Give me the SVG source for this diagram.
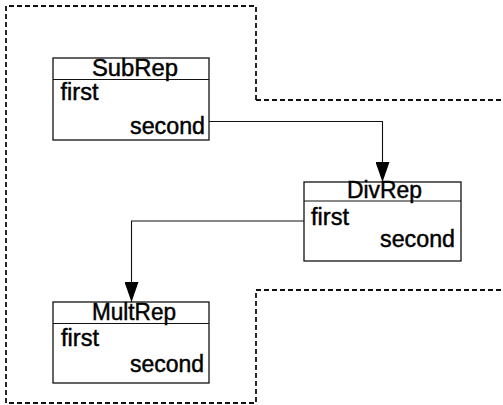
<svg xmlns="http://www.w3.org/2000/svg" width="503" height="405" viewBox="0 0 503 405">
<style>
.box{fill:#fff;stroke:#111;stroke-width:1.3}
.div{stroke:#111;stroke-width:1.2}
.t{font-family:"Liberation Sans",Arial,sans-serif;font-size:23px;fill:#000;stroke:#000;stroke-width:0.45}
.conn{fill:none;stroke:#111;stroke-width:1.1}
.outline{fill:none;stroke:#111;stroke-width:1.8;stroke-dasharray:5,3}
</style>
<defs>
<marker id="arr" markerWidth="20" markerHeight="14" refX="20" refY="7" orient="auto" markerUnits="userSpaceOnUse" viewBox="0 0 20 14">
<path d="M0,0 L20,7 L0,14 Z" fill="#000"/>
</marker>
</defs>
<path class="outline" d="M256,100 L256,6 L6,6 L6,403 L256,403 L256,290 L503,290 M256,100 L503,100"/>
<g id="connectors">
<path class="conn" d="M209,121.5 L382.5,121.5 L382.5,182" marker-end="url(#arr)"/>
<path class="conn" d="M304,221 L131.5,221 L131.5,302" marker-end="url(#arr)"/>
</g>
<g id="SubRep">
<rect class="box" x="53" y="58" width="156" height="82"/>
<line class="div" x1="53" y1="79.5" x2="209" y2="79.5"/>
<text class="t" x="92" y="76" textLength="86" lengthAdjust="spacingAndGlyphs">SubRep</text>
<text class="t" x="60.5" y="99.5" textLength="38" lengthAdjust="spacingAndGlyphs">first</text>
<text class="t" x="130" y="134" textLength="75" lengthAdjust="spacingAndGlyphs">second</text>
</g>
<g id="DivRep">
<rect class="box" x="304" y="182" width="157" height="79"/>
<line class="div" x1="304" y1="201" x2="461" y2="201"/>
<text class="t" x="347" y="197.5" textLength="75" lengthAdjust="spacingAndGlyphs">DivRep</text>
<text class="t" x="311" y="224.5" textLength="38" lengthAdjust="spacingAndGlyphs">first</text>
<text class="t" x="380" y="247" textLength="75" lengthAdjust="spacingAndGlyphs">second</text>
</g>
<g id="MultRep">
<rect class="box" x="53" y="302" width="156" height="81"/>
<line class="div" x1="53" y1="323.5" x2="209" y2="323.5"/>
<text class="t" x="92" y="320" textLength="84" lengthAdjust="spacingAndGlyphs">MultRep</text>
<text class="t" x="61" y="345.5" textLength="38" lengthAdjust="spacingAndGlyphs">first</text>
<text class="t" x="130" y="371.5" textLength="74" lengthAdjust="spacingAndGlyphs">second</text>
</g>
</svg>
